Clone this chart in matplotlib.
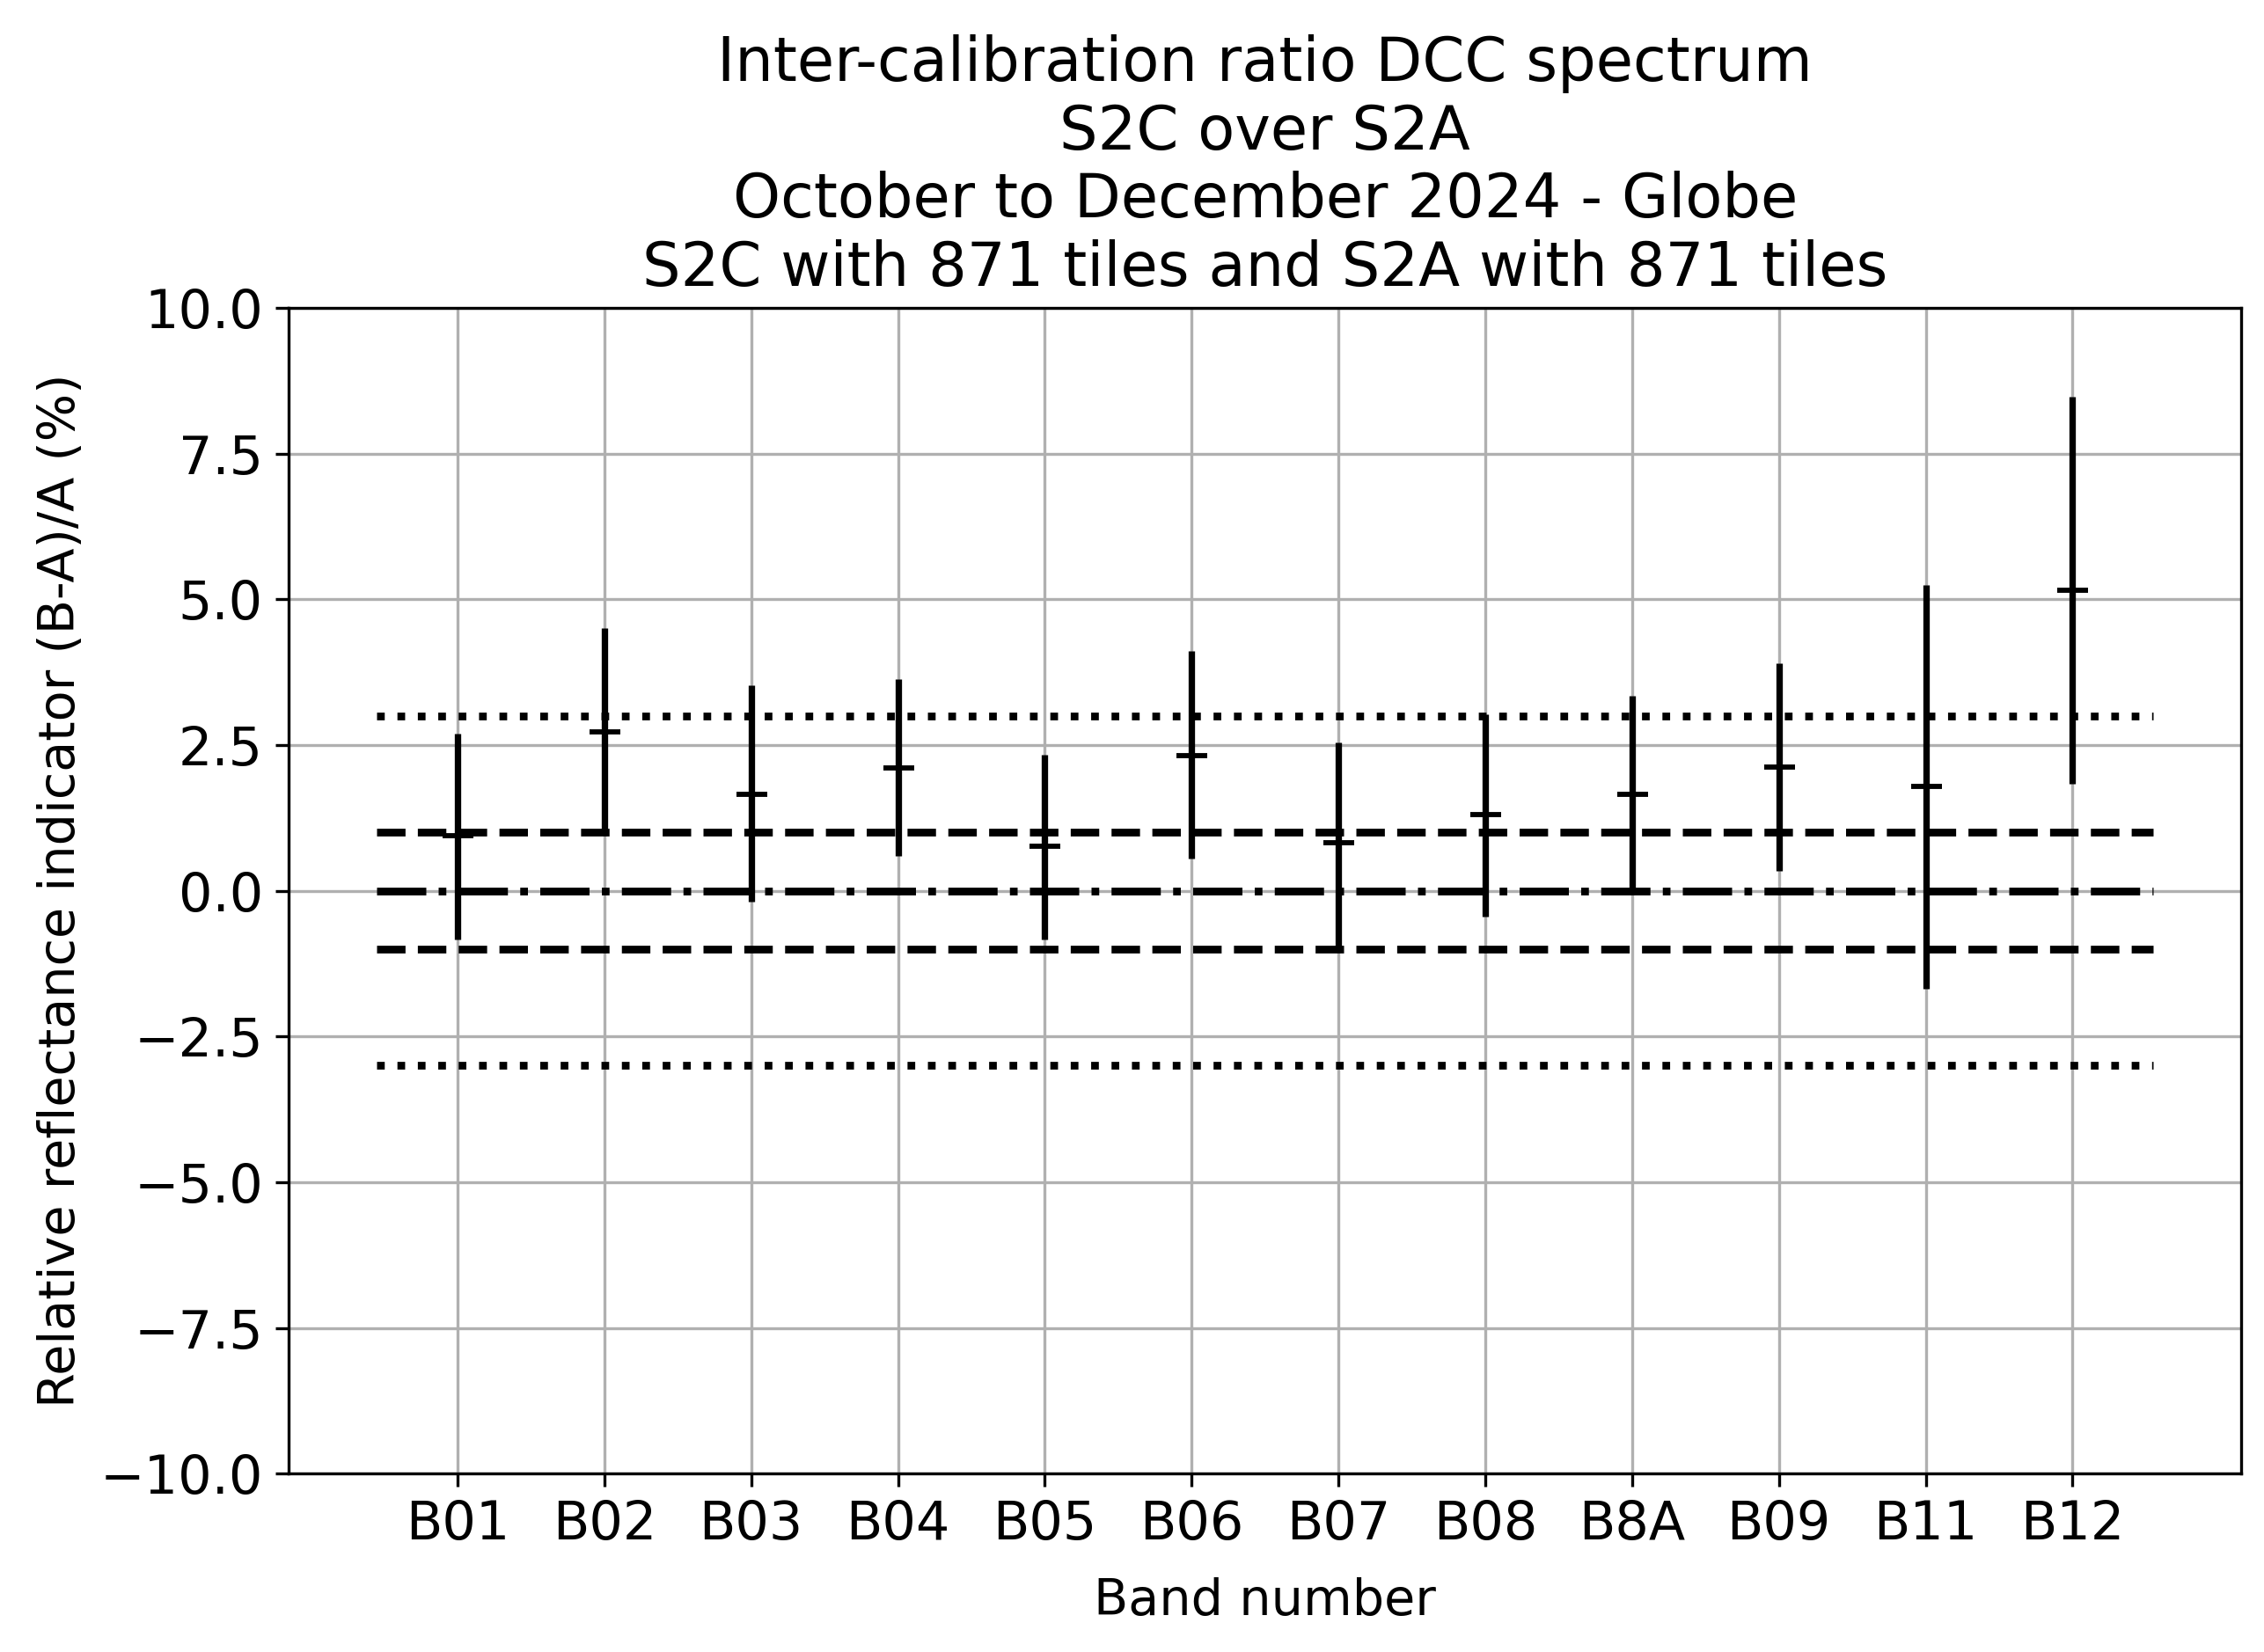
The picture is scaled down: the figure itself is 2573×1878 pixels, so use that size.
import numpy as np
import matplotlib
matplotlib.use('Agg')
import matplotlib.pyplot as plt

bands = ['B01', 'B02', 'B03', 'B04', 'B05', 'B06', 'B07', 'B08', 'B8A', 'B09', 'B11', 'B12']
ratio = [0.95, 2.72, 1.66, 2.10, 0.76, 2.32, 0.82, 1.30, 1.66, 2.12, 1.79, 5.15]
low = [-0.83, 1.0, -0.19, 0.60, -0.83, 0.55, -0.95, -0.45, 0.0, 0.34, -1.68, 1.83]
high = [2.69, 4.50, 3.52, 3.63, 2.34, 4.11, 2.54, 3.03, 3.34, 3.91, 5.25, 8.48]

plt.rcParams['font.size'] = 13.75
plt.rcParams['xtick.labelsize'] = 14.5
plt.rcParams['ytick.labelsize'] = 14.5

x = np.arange(1, len(bands) + 1)
ratio = np.array(ratio)
yerr = [ratio - np.array(low), np.array(high) - ratio]

fig = plt.figure(figsize=(2573 / 300, 1878 / 300), dpi=300)
ax = fig.add_axes([0.1275, 0.108, 0.8625, 0.7056])

# reference lines
x0, x1 = 0.45, 12.55
ax.plot([x0, x1], [3, 3], ':', color='k', lw=2.1)
ax.plot([x0, x1], [-3, -3], ':', color='k', lw=2.1)
ax.plot([x0, x1], [1, 1], '--', color='k', lw=2.1)
ax.plot([x0, x1], [-1, -1], '--', color='k', lw=2.1)
ax.plot([x0, x1], [0, 0], '-.', color='k', lw=2.1)

ax.errorbar(x, ratio, yerr=yerr, fmt='_', color='k', ecolor='k',
            elinewidth=1.75, markersize=8.4, markeredgewidth=1.4)

ax.set_xticks(x)
ax.set_xticklabels(bands)
ax.set_xlim(-0.15, 13.15)
ax.set_ylim(-10, 10)
ax.set_yticks(np.arange(-10, 10.1, 2.5))
ax.grid(True)
ax.set_axisbelow(True)
ax.set_xlabel('Band number', labelpad=7)
ax.set_ylabel('Relative reflectance indicator (B-A)/A (%)')
ax.set_title('Inter-calibration ratio DCC spectrum\nS2C over S2A\n'
             'October to December 2024 - Globe\n'
             'S2C with 871 tiles and S2A with 871 tiles')

fig.savefig('out.png', dpi=300)
